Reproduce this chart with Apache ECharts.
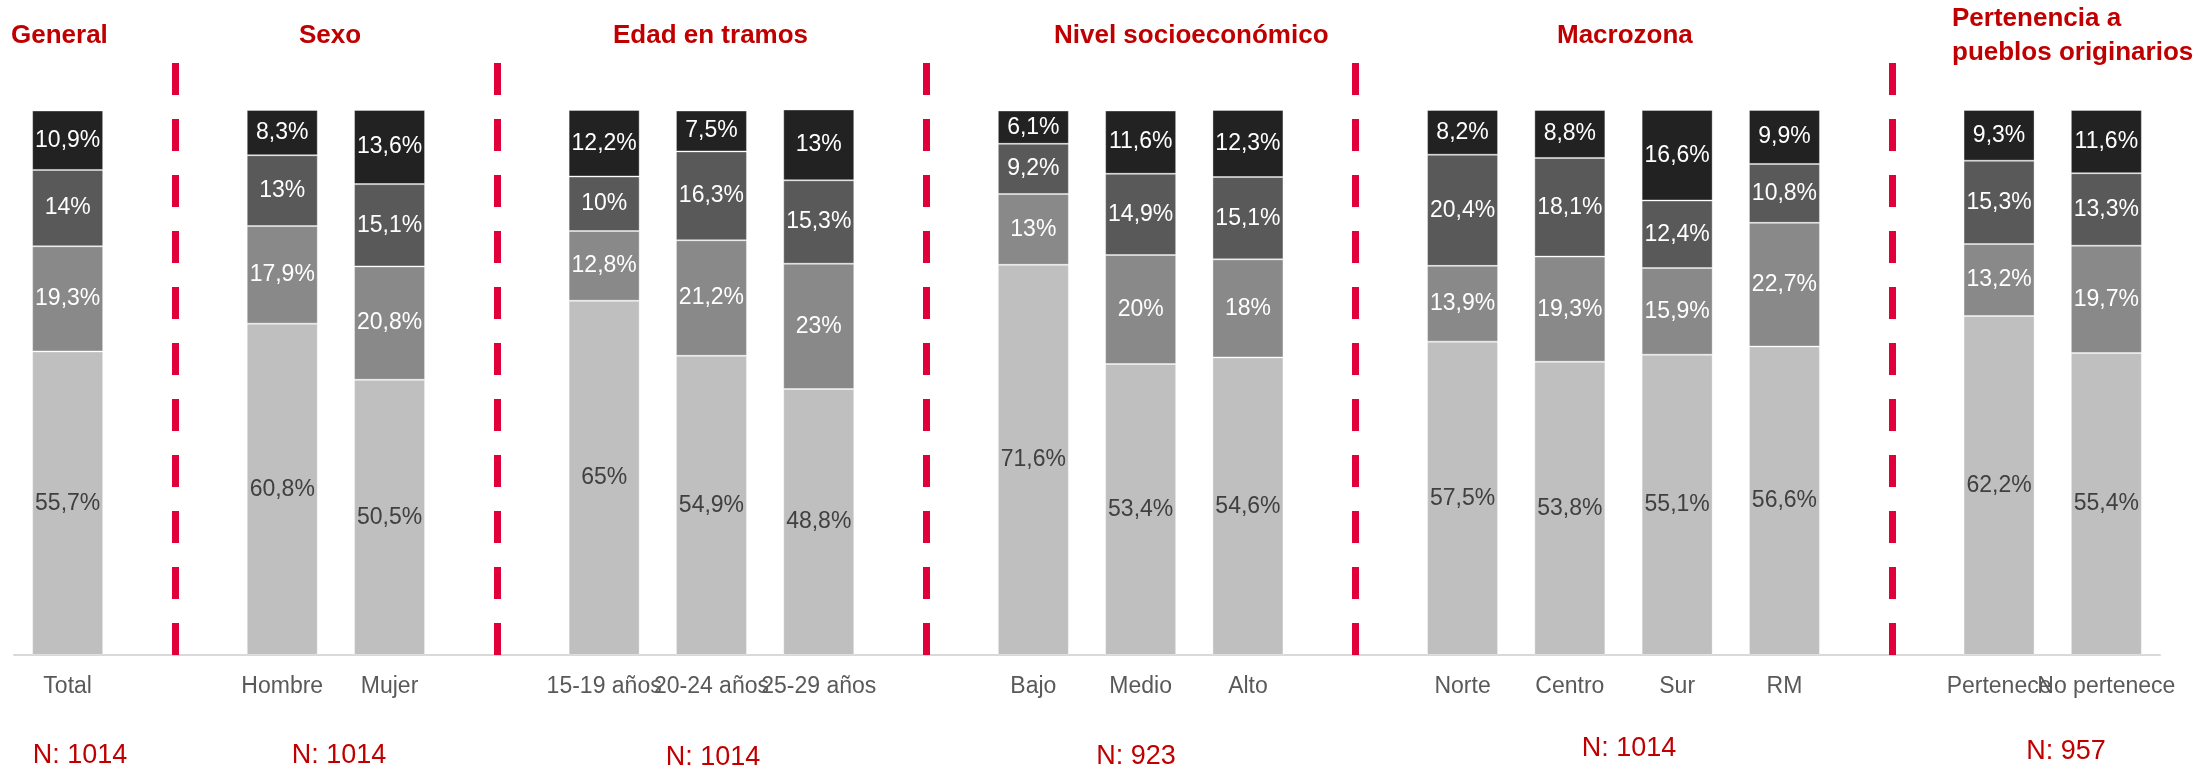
<!DOCTYPE html>
<html>
<head>
<meta charset="utf-8">
<script src="https://cdn.jsdelivr.net/npm/echarts@6/dist/echarts.min.js"></script>
<style>
  html, body { margin: 0; padding: 0; background: #fff; }
  #chart { width: 2210px; height: 769px; }
</style>
</head>
<body>
<div id="chart"></div>
<script>
// categorias ('' = hueco donde va la linea divisoria)
var categories = ['Total', '', 'Hombre', 'Mujer', '', '15-19 años', '20-24 años', '25-29 años', '',
  'Bajo', 'Medio', 'Alto', '', 'Norte', 'Centro', 'Sur', 'RM', '', 'Pertenece', 'No pertenece'];

// series de abajo hacia arriba
var serie1 = [55.7, '-', 60.8, 50.5, '-', 65, 54.9, 48.8, '-', 71.6, 53.4, 54.6, '-', 57.5, 53.8, 55.1, 56.6, '-', 62.2, 55.4];
var serie2 = [19.3, '-', 17.9, 20.8, '-', 12.8, 21.2, 23, '-', 13, 20, 18, '-', 13.9, 19.3, 15.9, 22.7, '-', 13.2, 19.7];
var serie3 = [14, '-', 13, 15.1, '-', 10, 16.3, 15.3, '-', 9.2, 14.9, 15.1, '-', 20.4, 18.1, 12.4, 10.8, '-', 15.3, 13.3];
var serie4 = [10.9, '-', 8.3, 13.6, '-', 12.2, 7.5, 13, '-', 6.1, 11.6, 12.3, '-', 8.2, 8.8, 16.6, 9.9, '-', 9.3, 11.6];

var dividers = [1, 4, 8, 12, 17];

var groupTitles = ['General', 'Sexo', 'Edad en tramos', 'Nivel socioeconómico', 'Macrozona', 'Pertenencia a\npueblos originarios'];
var groupN = ['N: 1014', 'N: 1014', 'N: 1014', 'N: 923', 'N: 1014', 'N: 957'];

// posiciones de los textos (px)
var titleX = [11, 299, 613, 1054, 1557, 1952];
var nX = [80, 339, 713, 1136, 1629, 2066];
var nY = [756, 756, 758, 757, 749, 752];

var FONT = 'Liberation Sans, Arial, Helvetica, sans-serif';
var RED = '#c00000';

var myChart = echarts.init(document.getElementById('chart'));

function pct(p) {
    return String(p.value).replace('.', ',') + '%';
}

function barSerie(data, color, labelColor) {
    return {
        type: 'bar',
        stack: 'total',
        barWidth: 71,
        data: data,
        itemStyle: { color: color, borderColor: 'rgba(255,255,255,0.35)', borderWidth: 1 },
        label: {
            show: true,
            position: 'inside',
            color: labelColor,
            fontFamily: FONT,
            fontSize: 23,
            formatter: pct
        },
        emphasis: { disabled: true },
        silent: true
    };
}

var graphics = [];
for (var i = 0; i < groupTitles.length; i++) {
    graphics.push({
        type: 'text',
        x: titleX[i],
        y: 36,
        style: {
            text: groupTitles[i],
            fill: RED,
            font: 'bold 26px ' + FONT,
            lineHeight: 34,
            textAlign: 'left',
            textVerticalAlign: 'middle'
        }
    });
    graphics.push({
        type: 'text',
        x: nX[i],
        y: nY[i],
        style: {
            text: groupN[i],
            fill: RED,
            font: '27px ' + FONT,
            textAlign: 'center',
            textVerticalAlign: 'middle'
        }
    });
}

var option = {
    animation: false,
    backgroundColor: '#fff',
    grid: [
        { left: 14, right: 50, top: 110, bottom: 114 },
        { left: 14, right: 50, top: 62, bottom: 114 }
    ],
    xAxis: [
        {
            type: 'category',
            gridIndex: 0,
            data: categories,
            axisTick: { show: false },
            axisLine: { lineStyle: { color: '#d9d9d9', width: 2 } },
            axisLabel: {
                interval: 0,
                margin: 20,
                color: '#595959',
                fontFamily: FONT,
                fontSize: 23
            }
        },
        {
            type: 'category',
            gridIndex: 1,
            data: categories,
            show: false
        }
    ],
    yAxis: [
        { type: 'value', gridIndex: 0, min: 0, max: 100, show: false },
        { type: 'value', gridIndex: 1, min: 0, max: 100, show: false }
    ],
    series: [
        barSerie(serie1, '#bfbfbf', '#404040'),
        barSerie(serie2, '#898989', '#ffffff'),
        barSerie(serie3, '#595959', '#ffffff'),
        barSerie(serie4, '#222222', '#ffffff'),
        {
            type: 'line',
            xAxisIndex: 1,
            yAxisIndex: 1,
            data: [],
            silent: true,
            markLine: {
                silent: true,
                symbol: ['none', 'none'],
                label: { show: false },
                lineStyle: { color: '#e2003a', width: 7, type: [32, 24] },
                emphasis: { disabled: true },
                data: dividers.map(function (d) { return { xAxis: d }; })
            }
        }
    ],
    graphic: graphics
};

myChart.setOption(option);
</script>
</body>
</html>
